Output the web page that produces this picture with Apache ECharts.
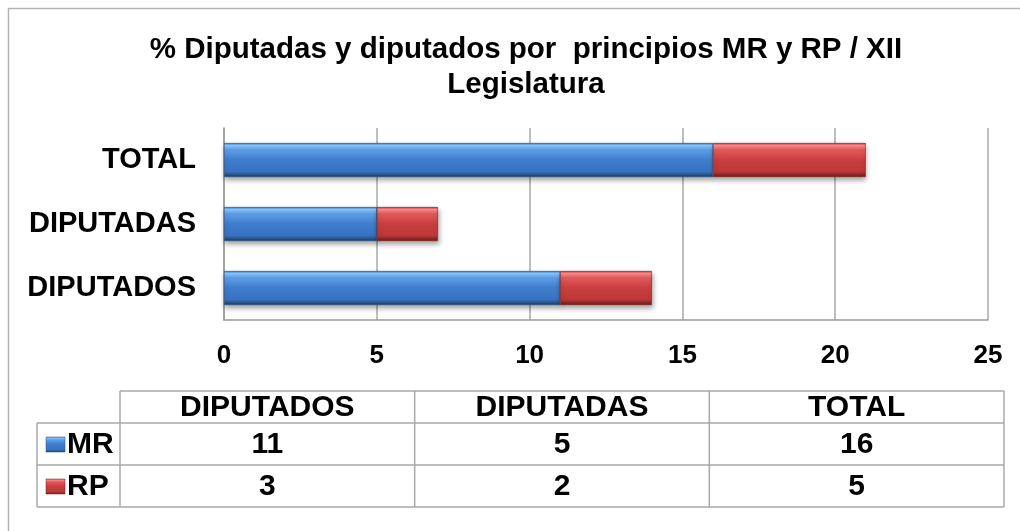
<!DOCTYPE html>
<html><head><meta charset="utf-8">
<script src="https://cdn.jsdelivr.net/npm/echarts@6/dist/echarts.min.js"></script>
<style>html,body{margin:0;padding:0;background:#fff}#c{width:1020px;height:531px}</style>
</head><body><div id="c"></div>
<script>
// ---- data ----
const titleText = '% Diputadas y diputados por  principios MR y RP / XII\nLegislatura';
const categories = ['DIPUTADOS', 'DIPUTADAS', 'TOTAL'];
const seriesNames = ['MR', 'RP'];
const mrValues = [11, 5, 16];
const rpValues = [3, 2, 5];
const xMin = 0, xMax = 25, xStep = 5;

// ---- styles ----
const FONT = '"Liberation Sans", Arial, sans-serif';
function grad(stops) {
  return new echarts.graphic.LinearGradient(0, 0, 0, 1, stops.map(s => ({offset: s[0], color: s[1]})));
}
const blueGrad = () => grad([[0,'#2e6cb8'],[0.07,'#8ccaff'],[0.2,'#5d9fe8'],[0.5,'#3f7dcb'],[0.84,'#3872c0'],[0.92,'#2b5894'],[1,'#1d3b66']]);
const redGrad = () => grad([[0,'#b83436'],[0.07,'#ff8e8e'],[0.2,'#e25b5b'],[0.5,'#c93e3e'],[0.84,'#bd3838'],[0.92,'#922a2a'],[1,'#6a1b1b']]);
const colors = [blueGrad, redGrad];
const seriesData = [mrValues, rpValues];

// ---- table (built from data arrays) ----
const tbl = {legL: 37, x0: 120, x1: 1004, rows: [391, 423, 465, 507]};
const colW = (tbl.x1 - tbl.x0) / categories.length;
const lineStyle = {stroke: '#a8a8a8', lineWidth: 1.5};
const g = [];
g.push({type: 'rect', silent: true, shape: {x: 8.5, y: 8.5, width: 1040, height: 560}, style: {fill: 'none', stroke: '#b4b4b4', lineWidth: 1.5}});
function hl(y, xa, xb) { g.push({type: 'line', silent: true, shape: {x1: xa, y1: y, x2: xb, y2: y}, style: lineStyle}); }
function vl(x, ya, yb) { g.push({type: 'line', silent: true, shape: {x1: x, y1: ya, x2: x, y2: yb}, style: lineStyle}); }
hl(tbl.rows[0], tbl.x0, tbl.x1);
for (let i = 1; i < tbl.rows.length; i++) hl(tbl.rows[i], tbl.legL, tbl.x1);
vl(tbl.legL, tbl.rows[1], tbl.rows[3]);
for (let c = 0; c <= categories.length; c++) vl(tbl.x0 + c * colW, tbl.rows[0], tbl.rows[3]);
const txtStyle = (t, x, y, align) => ({type: 'text', silent: true, x: x, y: y,
  style: {text: t, font: 'bold 30px ' + FONT, fill: '#000', align: align || 'center', verticalAlign: 'middle'}});
categories.forEach((cat, c) => {
  const cx = tbl.x0 + (c + 0.5) * colW;
  g.push(txtStyle(cat, cx, (tbl.rows[0] + tbl.rows[1]) / 2 + 1));
  seriesData.forEach((arr, s) => {
    g.push(txtStyle(String(arr[c]), cx, (tbl.rows[s + 1] + tbl.rows[s + 2]) / 2 + 1));
  });
});
seriesNames.forEach((nm, s) => {
  const cy = (tbl.rows[s + 1] + tbl.rows[s + 2]) / 2;
  g.push({type: 'rect', silent: true, shape: {x: 46, y: cy - 7, width: 19, height: 15},
    style: {fill: colors[s](), stroke: s === 0 ? '#2a4f80' : '#7a2020', lineWidth: 0.5}});
  g.push(txtStyle(nm, 67, cy + 1, 'left'));
});

const chart = echarts.init(document.getElementById('c'), null, {renderer: 'canvas'});
chart.setOption({
  backgroundColor: '#fff',
  animation: false,
  title: {
    text: titleText, left: 521, top: 27, textAlign: 'center',
    textStyle: {fontFamily: FONT, fontWeight: 'bold', fontSize: 29.5, lineHeight: 35, color: '#000'}
  },
  grid: {left: 224, right: 32, top: 128, bottom: 211, containLabel: false},
  xAxis: {
    type: 'value', min: xMin, max: xMax, interval: xStep,
    axisLine: {show: true, lineStyle: {color: '#9a9a9a', width: 1.5}},
    axisTick: {show: false},
    splitLine: {show: true, lineStyle: {color: '#a8a8a8', width: 1.5}},
    axisLabel: {margin: 23, fontFamily: FONT, fontWeight: 'bold', fontSize: 26, color: '#000'}
  },
  yAxis: {
    type: 'category', data: categories,
    axisLine: {show: true, lineStyle: {color: '#9a9a9a', width: 1.5}},
    axisTick: {show: false},
    axisLabel: {margin: 28, fontFamily: FONT, fontWeight: 'bold', fontSize: 29, color: '#000'}
  },
  series: seriesNames.map((nm, s) => ({
    name: nm, type: 'bar', stack: 'total', barWidth: 34,
    data: seriesData[s],
    itemStyle: {color: colors[s](), borderColor: s === 0 ? '#2a5088' : '#7a2222', borderWidth: 0.6,
      shadowColor: 'rgba(0,0,0,0.35)', shadowBlur: 5, shadowOffsetX: 1, shadowOffsetY: 3}
  })),
  graphic: g
});
</script></body></html>
